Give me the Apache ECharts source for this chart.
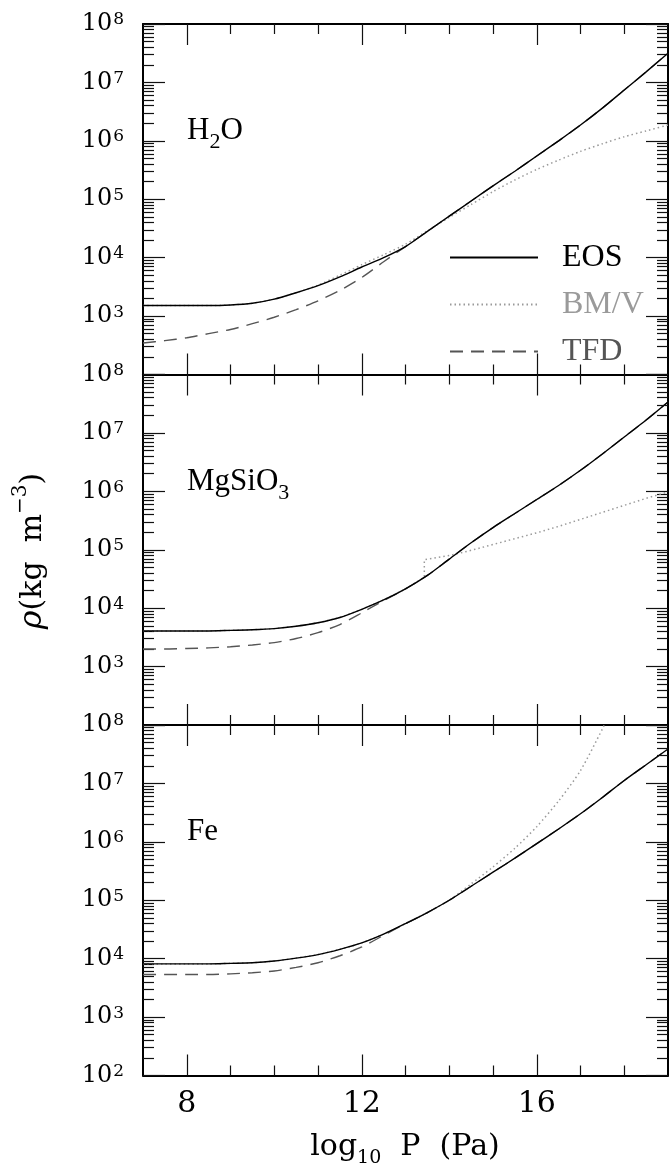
<!DOCTYPE html>
<html>
<head>
    <meta charset="UTF-8">
    <title>rho - P</title>
    <script src="https://cdn.jsdelivr.net/npm/echarts@6.0.0/dist/echarts.min.js"></script>
    <style type="text/css">
        html, body { margin: 0; padding: 0; background: #fff; }
        #main { width: 669px; height: 1168px; }
    </style>
</head>
<body>
<div id="main"></div>
<script>
    // log10 P (Pa)
    const logP = [7, 7.5, 8, 8.5, 9, 9.5, 10, 10.5, 11, 11.5, 12, 12.5, 13, 13.5, 14, 14.5, 15, 15.5, 16, 16.5, 17, 17.5, 18, 18.5, 19];

    // log10 rho (kg m^-3) -- H2O
    const h2oEos = [3.18, 3.18, 3.18, 3.18, 3.19, 3.22, 3.29, 3.40, 3.52, 3.67, 3.84, 4.00, 4.19, 4.45, 4.71, 4.97, 5.23, 5.48, 5.74, 6.00, 6.27, 6.56, 6.87, 7.18, 7.50];
    const h2oBmv = [3.18, 3.18, 3.18, 3.18, 3.19, 3.22, 3.29, 3.40, 3.53, 3.70, 3.88, 4.05, 4.23, 4.46, 4.69, 4.91, 5.13, 5.33, 5.51, 5.67, 5.82, 5.95, 6.07, 6.17, 6.27];
    const h2oTfd = [2.54, 2.58, 2.63, 2.70, 2.77, 2.87, 2.98, 3.11, 3.26, 3.44, 3.66, 3.93, 4.19, 4.45, 4.71, 4.97, 5.23, 5.48, 5.74, 6.00, 6.27, 6.56, 6.87, 7.18, 7.50];

    // MgSiO3
    const mgEos = [3.61, 3.61, 3.61, 3.61, 3.62, 3.63, 3.65, 3.69, 3.75, 3.84, 3.98, 4.14, 4.33, 4.56, 4.84, 5.12, 5.38, 5.62, 5.86, 6.10, 6.36, 6.64, 6.93, 7.22, 7.53];
    const mgTfd = [3.30, 3.30, 3.31, 3.32, 3.34, 3.37, 3.41, 3.48, 3.58, 3.72, 3.92, 4.13, 4.33, 4.56, 4.84, 5.12, 5.38, 5.62, 5.86, 6.10, 6.36, 6.64, 6.93, 7.22, 7.53];
    const mgBmvP = [7, 7.5, 8, 8.5, 9, 9.5, 10, 10.5, 11, 11.5, 12, 12.5, 13, 13.43, 13.43, 14, 14.5, 15, 15.5, 16, 16.5, 17, 17.5, 18, 18.5, 19];
    const mgBmv = [3.61, 3.61, 3.61, 3.61, 3.62, 3.63, 3.65, 3.69, 3.75, 3.84, 3.98, 4.14, 4.33, 4.53, 4.83, 4.90, 4.99, 5.09, 5.19, 5.29, 5.40, 5.52, 5.64, 5.76, 5.88, 5.99];

    // Fe
    const feEos = [3.91, 3.91, 3.91, 3.91, 3.92, 3.93, 3.96, 4.01, 4.07, 4.16, 4.27, 4.42, 4.60, 4.79, 5.00, 5.24, 5.48, 5.72, 5.97, 6.22, 6.48, 6.76, 7.05, 7.32, 7.59];
    const feTfd = [3.73, 3.73, 3.73, 3.73, 3.74, 3.76, 3.79, 3.85, 3.93, 4.05, 4.20, 4.40, 4.60, 4.79, 5.00, 5.24, 5.48, 5.72, 5.97, 6.22, 6.48, 6.76, 7.05, 7.32, 7.59];
    const feBmvP = [7, 7.5, 8, 8.5, 9, 9.5, 10, 10.5, 11, 11.5, 12, 12.5, 13, 13.5, 14, 14.5, 15, 15.5, 16, 16.5, 17, 17.5, 17.58];
    const feBmv = [3.91, 3.91, 3.91, 3.91, 3.92, 3.93, 3.96, 4.01, 4.07, 4.16, 4.27, 4.42, 4.60, 4.79, 5.00, 5.28, 5.57, 5.89, 6.26, 6.70, 7.22, 7.93, 8.06];

    // ticks and labels
    const xMajor = [8, 12, 16];
    const xMinor = [9, 10, 11, 13, 14, 15, 17, 18];
    const decades = [2, 3, 4, 5, 6, 7, 8];
    const mantissa = [2, 3, 4, 5, 6, 7, 8, 9];
    const panelLabels = ['{m|H}{d|2}{m|O}', '{m|MgSiO}{d|3}', '{m|Fe}'];
    const legendNames = ['EOS', 'BM/V', 'TFD'];

    const yMinor = [];
    decades.slice(0, -1).forEach(function (n) {
        mantissa.forEach(function (k) { yMinor.push(n + Math.log10(k)); });
    });

    const panelTop = [24, 374.5, 725];
    const panelH = 350.5;
    const tickLine = {color: '#111', width: 1.2};
    const numFont = 'DejaVu Serif';
    const txtFont = 'Liberation Serif';

    function pairs(xs, ys) {
        return xs.map(function (x, i) { return [x, ys[i]]; });
    }

    let grids = [], xAxes = [], yAxes = [], series = [], graphics = [];

    for (let g = 0; g < 3; g++) {
        grids.push({left: 143, width: 525, top: panelTop[g], height: panelH, outerBoundsMode: 'none'});

        ['bottom', 'top'].forEach(function (pos) {
            xAxes.push({
                gridIndex: g, type: 'value', min: 7, max: 19, position: pos,
                axisLine: {show: true, onZero: false, lineStyle: {color: '#000', width: 2}},
                axisTick: {show: true, inside: true, length: 21, customValues: xMajor, lineStyle: tickLine},
                axisLabel: (pos === 'bottom' && g === 2) ? {
                    show: true, customValues: xMajor, margin: 14,
                    fontFamily: numFont, fontSize: 30, color: '#000'
                } : {show: false},
                splitLine: {show: false}
            });
            xAxes.push({
                gridIndex: g, type: 'value', min: 7, max: 19, position: pos,
                axisLine: {show: false},
                axisTick: {show: true, inside: true, length: 10, customValues: xMinor, lineStyle: tickLine},
                axisLabel: {show: false},
                splitLine: {show: false}
            });
        });

        ['left', 'right'].forEach(function (pos) {
            yAxes.push({
                gridIndex: g, type: 'value', min: 2, max: 8, interval: 1, position: pos,
                axisLine: {show: true, onZero: false, lineStyle: {color: '#000', width: 2}},
                axisTick: {show: true, inside: true, length: 22, lineStyle: tickLine},
                axisLabel: pos === 'left' ? {
                    show: true, margin: 19,
                    customValues: g === 2 ? decades : decades.slice(1),
                    formatter: function (v) { return '{b|10}{s|' + v + '}'; },
                    rich: {
                        b: {fontFamily: numFont, fontSize: 24, lineHeight: 25, color: '#000'},
                        s: {fontFamily: numFont, fontSize: 17, lineHeight: 17, verticalAlign: 'top', padding: [0, 0, 0, 1], color: '#000'}
                    }
                } : {show: false},
                splitLine: {show: false}
            });
            yAxes.push({
                gridIndex: g, type: 'value', min: 2, max: 8, position: pos,
                axisLine: {show: false},
                axisTick: {show: true, inside: true, length: 11, customValues: yMinor, lineStyle: tickLine},
                axisLabel: {show: false},
                splitLine: {show: false}
            });
        });

        graphics.push({
            type: 'text', x: 187, y: panelTop[g] + 107, silent: true,
            style: {
                text: panelLabels[g], align: 'left', verticalAlign: 'middle',
                rich: {
                    m: {fontFamily: txtFont, fontSize: 31, lineHeight: 45, verticalAlign: 'middle', fill: '#000'},
                    d: {fontFamily: txtFont, fontSize: 22, lineHeight: 22, verticalAlign: 'bottom', fill: '#000'}
                }
            }
        });
    }

    const eosStyle = {color: '#000', width: 1.4, type: 'solid'};
    const bmvStyle = {color: '#9a9a9a', width: 1.5, type: [1.5, 3]};
    const tfdStyle = {color: '#555', width: 1.4, type: [13, 8]};

    function line(name, g, data, style, z, smooth) {
        return {
            name: name, type: 'line', xAxisIndex: g * 4, yAxisIndex: g * 4,
            data: data, symbol: 'none', smooth: smooth, silent: true, z: z,
            color: style.color, itemStyle: {color: style.color},
            lineStyle: style
        };
    }

    const panels = [
        {bmv: pairs(logP, h2oBmv), tfd: pairs(logP, h2oTfd), eos: pairs(logP, h2oEos), bmvSmooth: 0.25},
        {bmv: pairs(mgBmvP, mgBmv), tfd: pairs(logP, mgTfd), eos: pairs(logP, mgEos), bmvSmooth: false},
        {bmv: pairs(feBmvP, feBmv), tfd: pairs(logP, feTfd), eos: pairs(logP, feEos), bmvSmooth: 0.25}
    ];
    panels.forEach(function (p, g) {
        series.push(line('EOS', g, p.eos, eosStyle, 4, 0.25));
        series.push(line('BM/V', g, p.bmv, bmvStyle, 2, p.bmvSmooth));
        series.push(line('TFD', g, p.tfd, tfdStyle, 3, 0.25));
    });

    // axis titles
    graphics.push({
        type: 'text', x: 405, y: 1147.5, silent: true,
        style: {
            text: '{m|log}{d|10}{m|  P  (Pa)}', align: 'center', verticalAlign: 'middle',
            rich: {
                m: {fontFamily: numFont, fontSize: 30, lineHeight: 40, verticalAlign: 'middle', fill: '#000'},
                d: {fontFamily: numFont, fontSize: 19, lineHeight: 19, verticalAlign: 'bottom', fill: '#000'}
            }
        }
    });
    graphics.push({
        type: 'text', x: 33, y: 551, rotation: Math.PI / 2, silent: true,
        style: {
            text: '{i|ρ}{m|(kg  m}{s|−3}{m|)}', align: 'center', verticalAlign: 'middle',
            rich: {
                i: {fontFamily: numFont, fontStyle: 'italic', fontSize: 32, lineHeight: 44, verticalAlign: 'middle', fill: '#000'},
                m: {fontFamily: numFont, fontSize: 30, lineHeight: 44, verticalAlign: 'middle', fill: '#000'},
                s: {fontFamily: numFont, fontSize: 20, lineHeight: 20, verticalAlign: 'top', fill: '#000'}
            }
        }
    });

    let myChart = echarts.init(document.getElementById('main'), null, {renderer: 'canvas'});
    myChart.setOption({
        animation: false,
        backgroundColor: '#fff',
        grid: grids,
        xAxis: xAxes,
        yAxis: yAxes,
        legend: {
            orient: 'vertical', left: 449, top: 234, padding: 0, itemGap: 0,
            itemWidth: 88, itemHeight: 14, selectedMode: false,
            itemStyle: {opacity: 0},
            textStyle: {fontFamily: txtFont, fontSize: 32, lineHeight: 27, padding: [0, 0, 20, 19]},
            data: [
                {name: legendNames[0], textStyle: {color: '#000'}},
                {name: legendNames[1], textStyle: {color: '#9a9a9a'}},
                {name: legendNames[2], textStyle: {color: '#555'}}
            ]
        },
        series: series,
        graphic: graphics
    });
</script>
</body>
</html>
